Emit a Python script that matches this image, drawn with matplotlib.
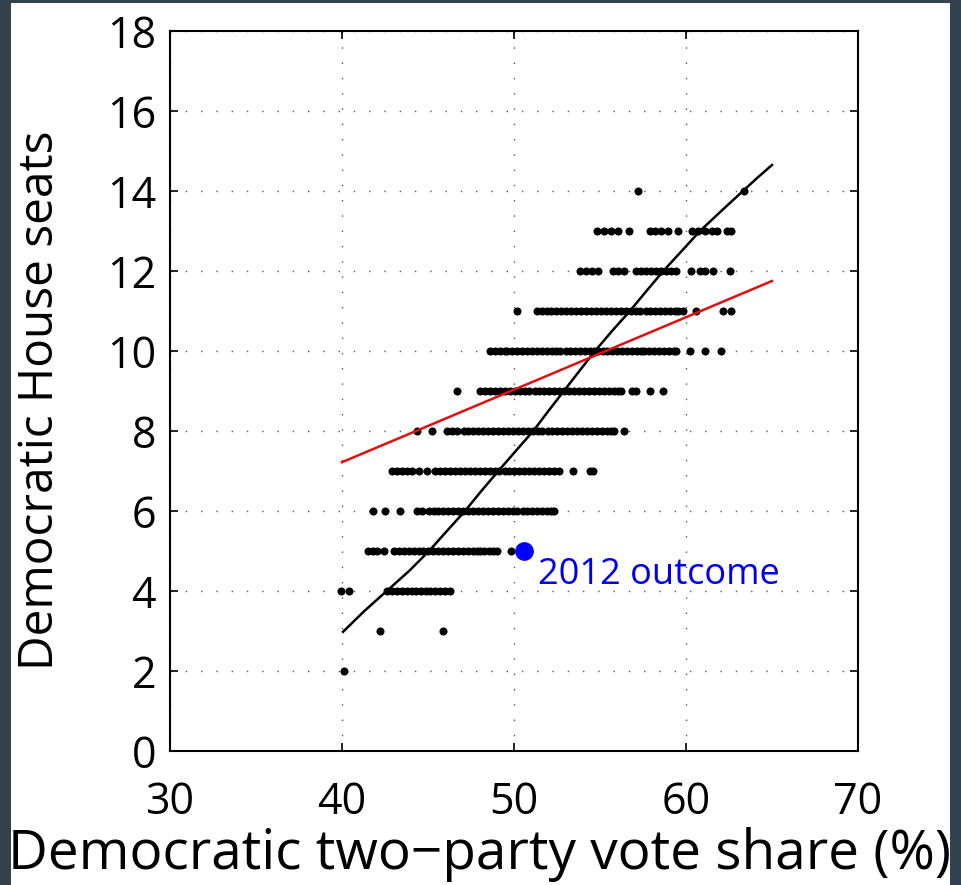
import matplotlib.pyplot as plt
from matplotlib.patches import Rectangle

plt.rcParams['font.family'] = ['Open Sans', 'DejaVu Sans']

# simulated outcomes: x positions (vote share %) of the dots for each seat count
seats_14 = [57.2, 63.4]
seats_13 = [54.85, 55.24, 55.63, 56.02, 56.67, 57.88, 58.21, 58.52, 58.96, 59.54,
            60.32, 60.72, 61.1, 61.5, 61.79, 62.38, 62.63]
seats_12 = [53.85, 54.18, 54.51, 54.86, 55.74, 56.03, 56.38, 57.09, 57.39, 57.68,
            57.97, 58.26, 58.55, 58.85, 59.14, 59.43, 60.31, 60.79, 61.09, 61.57, 62.54]
seats_11 = [50.15, 51.35, 51.62, 51.9, 52.18, 52.47, 52.75, 53.05, 53.33, 53.62,
            53.9, 54.2, 54.48, 54.77, 55.05, 55.35, 55.63, 55.92, 56.2, 56.5,
            56.78, 57.07, 57.35, 57.65, 57.93, 58.22, 58.5, 58.8, 59.08, 59.35,
            59.53, 59.82, 60.6, 62.16, 62.64]
seats_10 = [48.63, 48.9, 49.18, 49.45, 49.6, 49.9, 50.18, 50.47, 50.75, 51.05,
            51.33, 51.62, 51.9, 52.23, 52.42, 52.7, 53.0, 53.28, 53.57, 53.85,
            54.15, 54.43, 54.66, 54.86, 55.15, 55.43, 55.72, 56.0, 56.3, 56.58,
            56.87, 57.15, 57.39, 57.58, 57.87, 58.15, 58.45, 58.73, 59.02, 59.3,
            59.43, 60.21, 61.09, 62.06]
seats_9 = [46.68, 48.04, 48.32, 48.6, 48.9, 49.18, 49.47, 49.75, 50.05, 50.33,
           50.62, 50.9, 51.2, 51.48, 51.77, 52.05, 52.35, 52.63, 52.92, 53.2,
           53.5, 53.78, 54.07, 54.35, 54.65, 54.93, 55.22, 55.5, 55.8, 56.05,
           56.22, 56.85, 57.1, 57.92, 58.65]
seats_8 = [44.35, 45.22, 46.1, 46.4, 46.68, 47.07, 47.35, 47.63, 47.92, 48.2,
           48.5, 48.78, 49.07, 49.35, 49.65, 49.93, 50.22, 50.5, 50.8, 51.08,
           51.37, 51.65, 51.95, 52.23, 52.52, 52.8, 53.1, 53.38, 53.67, 53.95,
           54.25, 54.53, 54.82, 55.1, 55.4, 55.65, 55.83, 56.41]
seats_7 = [42.89, 43.2, 43.5, 43.8, 44.05, 44.45, 44.93, 45.42, 45.7, 46.0,
           46.28, 46.57, 46.85, 47.15, 47.43, 47.72, 48.0, 48.3, 48.58, 48.87,
           49.15, 49.45, 49.73, 50.02, 50.3, 50.6, 50.88, 51.17, 51.45, 51.75,
           52.03, 52.32, 52.6, 53.45, 54.4, 54.6]
seats_6 = [41.81, 42.5, 43.37, 44.35, 44.64, 45.03, 45.32, 45.6, 45.9, 46.18,
           46.47, 46.75, 47.05, 47.33, 47.62, 47.9, 48.2, 48.48, 48.77, 49.05,
           49.35, 49.63, 49.92, 50.2, 50.5, 50.78, 51.07, 51.35, 51.65, 51.93,
           52.15, 52.33]
seats_5 = [41.5, 41.78, 42.05, 42.45, 43.05, 43.32, 43.6, 43.9, 44.2, 44.45,
           44.73, 45.02, 45.3, 45.6, 45.88, 46.17, 46.45, 46.75, 47.03, 47.32,
           47.6, 47.85, 48.04, 48.26, 48.52, 48.78, 49.0, 49.8]
seats_4 = [39.95, 40.4, 42.6, 42.9, 43.2, 43.5, 43.8, 44.05, 44.3, 44.6,
           44.9, 45.1, 45.4, 45.7, 46.0, 46.3]
seats_3 = [42.2, 45.9]
seats_2 = [40.1]
rows = {14: seats_14, 13: seats_13, 12: seats_12, 11: seats_11, 10: seats_10,
        9: seats_9, 8: seats_8, 7: seats_7, 6: seats_6, 5: seats_5,
        4: seats_4, 3: seats_3, 2: seats_2}

# seats-votes curve (black)
curve_x = [40.06, 41.3, 42.6, 43.9, 45.06, 46.1, 47.15, 48.1, 49.09, 50.1,
           51.12, 52.0, 52.9, 53.8, 54.71, 55.7, 56.74, 57.7, 58.68, 59.75,
           60.81, 62.05, 63.31, 64.2, 65.0]
curve_y = [2.98, 3.5, 4.0, 4.5, 5.0, 5.5, 6.0, 6.5, 7.0, 7.5,
           8.0, 8.5, 9.0, 9.5, 10.0, 10.5, 11.0, 11.5, 12.0, 12.5,
           13.0, 13.5, 14.0, 14.35, 14.65]

# linear fit (red)
fit_x = [40.0, 65.0]
fit_y = [7.22, 11.75]

# 2012 result
outcome_x = 50.6
outcome_y = 5.0

fig = plt.figure(figsize=(9.61, 8.85), dpi=100, facecolor='#33434e')
fig.patches.append(Rectangle((11 / 961, 0), 939 / 961, 882 / 885,
                             transform=fig.transFigure, facecolor='white',
                             edgecolor='none', zorder=-5))
ax = fig.add_axes([170 / 961, 1 - 751 / 885, 688 / 961, 720 / 885])

ax.grid(True, color='#555555', linestyle=(0, (1, 10)), linewidth=1.0)
for s, xs in rows.items():
    ax.plot(xs, [s] * len(xs), 'o', color='black', markersize=5.8,
            markeredgewidth=0, zorder=3)
ax.plot(curve_x, curve_y, color='black', linewidth=1.8, zorder=4)
ax.plot(fit_x, fit_y, color='#e01010', linewidth=1.8, zorder=4)
ax.plot(outcome_x, outcome_y, 'o', color='#0000ff', markersize=13.5,
        markeredgewidth=0, zorder=5)
ax.text(51.4, 4.4, '2012 outcome', color='#0000ee', fontsize=26,
        ha='left', va='center')

ax.set_xlim(30, 70)
ax.set_ylim(0, 18)
ax.set_xticks([30, 40, 50, 60, 70])
ax.set_yticks(range(0, 19, 2))
ax.tick_params(direction='in', length=6, width=1.2, labelsize=31,
               top=True, right=True, pad=10)
ax.tick_params(axis='x', pad=21)
for sp in ax.spines.values():
    sp.set_linewidth(1.5)

fig.text(40 / 961, 1 - 400 / 885, 'Democratic House seats', rotation=90,
         fontsize=34.5, ha='center', va='center')
fig.text(480 / 961, 1 - 855 / 885, 'Democratic two\u2212party vote share (%)',
         fontsize=39.5, ha='center', va='center')

fig.savefig('out.png', dpi=100, facecolor=fig.get_facecolor())
